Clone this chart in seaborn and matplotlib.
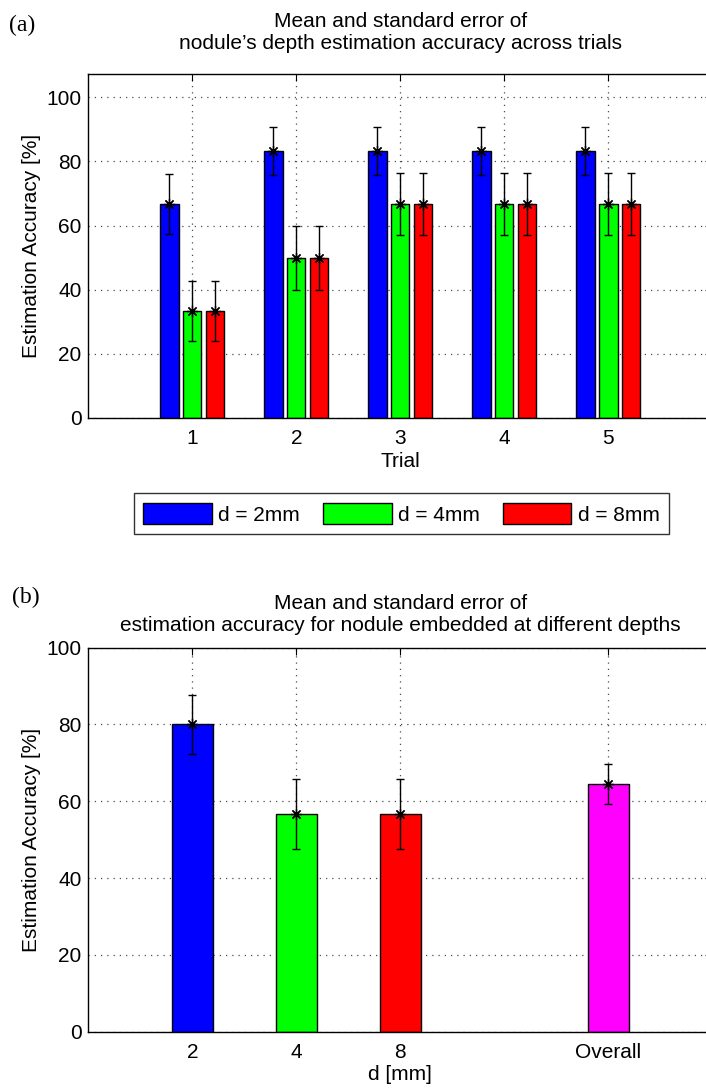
import matplotlib

matplotlib.use("Agg")

import matplotlib.pyplot as plt
import pandas as pd
import seaborn as sns

# (a) accuracy per trial and depth
TRIALS = ["1", "2", "3", "4", "5"]
DEPTH_NAMES = ["d = 2mm", "d = 4mm", "d = 8mm"]
ACC_2MM = [66.7, 83.3, 83.3, 83.3, 83.3]
ACC_4MM = [33.3, 50.0, 66.7, 66.7, 66.7]
ACC_8MM = [33.3, 50.0, 66.7, 66.7, 66.7]
SE_2MM = [9.5, 7.5, 7.5, 7.5, 7.5]
SE_4MM = [9.5, 10.0, 9.6, 9.6, 9.6]
SE_8MM = [9.5, 10.0, 9.6, 9.6, 9.6]

# (b) accuracy per depth and overall
DEPTH_LABELS = ["2", "4", "8", "Overall"]
DEPTH_ACC = [80.0, 56.7, 56.7, 64.4]
DEPTH_SE = [7.6, 9.2, 9.2, 5.2]

BAR_COLORS = ["#0000ff", "#00ff00", "#ff0000", "#ff00ff"]
FS = 15

sns.set_theme(style="white")
plt.rcParams["font.family"] = ["Liberation Sans", "DejaVu Sans"]
plt.rcParams["axes.edgecolor"] = "black"
plt.rcParams["axes.linewidth"] = 1.0


def style_axes(ax, ymax):
    ax.set_axisbelow(True)
    ax.grid(True, linestyle=(0, (1, 4)), color="0.3", linewidth=0.9)
    ax.set_xlim(-1, 5)
    ax.set_ylim(0, ymax)
    ax.set_yticks([0, 20, 40, 60, 80, 100])
    ax.tick_params(axis="both", direction="in", top=True, right=True,
                   length=5, width=0.8, color="black", labelsize=FS,
                   labelcolor="black")
    ax.tick_params(axis="x", pad=8)
    ax.tick_params(axis="y", pad=5)
    for side in ["left", "right", "top", "bottom"]:
        ax.spines[side].set_visible(True)
        ax.spines[side].set_color("black")
    ax.set_ylabel("Estimation Accuracy [%]", fontsize=FS, color="black",
                  labelpad=4)


def add_errorbars(ax, containers, se_lists):
    for container, se_vals in zip(containers, se_lists):
        bars = sorted(container, key=lambda b: b.get_x())
        xs = [b.get_x() + b.get_width() / 2 for b in bars]
        ys = [b.get_height() for b in bars]
        ax.errorbar(xs, ys, yerr=se_vals, fmt="none", ecolor="black",
                    elinewidth=1.0, capsize=2.6, capthick=1.0, zorder=4)
        ax.plot(xs, ys, linestyle="none", marker=(8, 2, 0), markersize=8,
                markeredgecolor="black", markeredgewidth=0.9, zorder=5)


fig = plt.figure(figsize=(7.06, 10.90), dpi=100)

# ---- (a) ----
ax1 = fig.add_axes([0.1251, 0.6168, 0.8839, 0.3153])
trial_df = pd.DataFrame({
    "Trial": TRIALS * 3,
    "Depth": [name for name in DEPTH_NAMES for _ in TRIALS],
    "Accuracy": ACC_2MM + ACC_4MM + ACC_8MM,
})
sns.barplot(data=trial_df, x="Trial", y="Accuracy", hue="Depth",
            hue_order=DEPTH_NAMES, palette=BAR_COLORS[:3], saturation=1,
            width=0.66, gap=0.2, errorbar=None, edgecolor="black",
            linewidth=1.0, ax=ax1)
bar_groups = list(ax1.containers)
add_errorbars(ax1, bar_groups, [SE_2MM, SE_4MM, SE_8MM])
style_axes(ax1, 107.3)
ax1.set_xlabel("Trial", fontsize=FS, color="black", labelpad=3)
ax1.set_title("Mean and standard error of\n"
              "nodule\u2019s depth estimation accuracy across trials",
              fontsize=FS, color="black", pad=18, linespacing=1.2)

handles, labels = ax1.get_legend_handles_labels()
ax1.get_legend().remove()
leg = fig.legend(handles, labels, loc="center",
                 bbox_to_anchor=(0.5684, 0.5287), ncol=3, fontsize=FS,
                 frameon=True, fancybox=False, edgecolor="black",
                 handlelength=3.3, handleheight=1.2, handletextpad=0.3,
                 columnspacing=1.1, borderpad=0.45, borderaxespad=0)
leg.get_frame().set_linewidth(1.0)
for text in leg.get_texts():
    text.set_color("black")

# ---- (b) ----
ax2 = fig.add_axes([0.1251, 0.0535, 0.8839, 0.3523])
depth_df = pd.DataFrame({"Depth": DEPTH_LABELS, "Accuracy": DEPTH_ACC})
slot_order = DEPTH_LABELS[:3] + [" "] + DEPTH_LABELS[3:]
sns.barplot(data=depth_df, x="Depth", y="Accuracy", hue="Depth",
            order=slot_order, hue_order=DEPTH_LABELS,
            palette=dict(zip(DEPTH_LABELS, BAR_COLORS)), saturation=1,
            width=0.4, errorbar=None, edgecolor="black", linewidth=1.0,
            legend=False, ax=ax2)
depth_bars = sorted([b for c in ax2.containers for b in c],
                    key=lambda b: b.get_x())
add_errorbars(ax2, [depth_bars], [DEPTH_SE])
style_axes(ax2, 100)
tick_pos = [slot_order.index(label) for label in DEPTH_LABELS]
ax2.set_xticks(tick_pos, DEPTH_LABELS)
ax2.set_xlim(-1, 5)
ax2.set_xlabel("d [mm]", fontsize=FS, color="black", labelpad=2)
ax2.set_title("Mean and standard error of\n"
              "estimation accuracy for nodule embedded at different depths",
              fontsize=FS, color="black", pad=12, linespacing=1.2)

serif = ["Liberation Serif", "DejaVu Serif"]
fig.text(0.013, 0.977, "(a)", fontsize=17, family=serif, color="black",
         va="center", ha="left")
fig.text(0.017, 0.452, "(b)", fontsize=17, family=serif, color="black",
         va="center", ha="left")

fig.savefig("out.png", dpi=100)
